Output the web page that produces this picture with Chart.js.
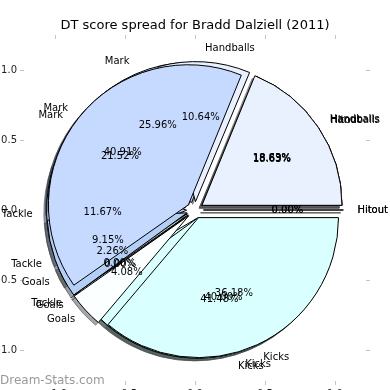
<!DOCTYPE html>
<html><head><meta charset="utf-8">
<script src="https://cdn.jsdelivr.net/npm/chart.js@4.4.1/dist/chart.umd.min.js"></script>
<style>
html,body{margin:0;padding:0;background:#fff;overflow:hidden;width:390px;height:390px;}
#wrap{position:relative;width:390px;height:390px;overflow:hidden;background:#fff;}
canvas{position:absolute;}
#base{left:-20px;top:0;width:430px;height:420px;}
.pie{left:0;top:0;width:390px;height:390px;}
</style></head><body>
<div id="wrap">
<canvas id="base" width="430" height="420"></canvas>
<canvas id="pieA" class="pie" width="390" height="390"></canvas>
<canvas id="pieC" class="pie" width="390" height="390"></canvas>
<canvas id="pieB" class="pie" width="390" height="390"></canvas>
</div>
<script>
// ---- data ----
const chartTitle = 'DT score spread for Bradd Dalziell (2011)';
const categories = ['Hitout', 'Handballs', 'Mark', 'Tackle', 'Goals', 'Kicks'];
const pieAValues = [0.00, 18.63, 25.96, 11.67, 2.26, 41.48];   // drawn first (bottom)
const pieCValues = [18.69, 10.64, 21.52, 9.15, 0.00, 40.00];   // drawn second
const pieBValues = [0.00, 18.83, 40.91, 0.00, 4.08, 36.18];    // drawn last (top)
const axisTicks = [-1.0, -0.5, 0.0, 0.5, 1.0];
const watermarkText = 'Dream-Stats.com';

// ---- style ----
const sliceColors = ['#eeeeee', '#e9f0fe', '#c6d9fe', '#b4cff6', '#d4e98b', '#d9ffff'];
const topSliceColors = ['#eeeeee', '#e9f0fe', '#c6d9fe', '#b4cff6', '#fbffff', '#d9ffff'];
const FONT = '"DejaVu Sans", "Liberation Sans", sans-serif';
const PIE_RADIUS = 140;
const EXPLODE = 0.06;
const SHADOW = 0.02;
const AXIS_LIMIT = 171 / 140;

function shadowColor(hex) {
  const n = parseInt(hex.slice(1), 16);
  const r = (n >> 16) & 255, g = (n >> 8) & 255, b = n & 255;
  return 'rgba(' + Math.round(r * 0.3) + ',' + Math.round(g * 0.3) + ',' + Math.round(b * 0.3) + ',0.5)';
}
function fmtTick(v) {
  return (v < 0 ? '\u2212' : '') + Math.abs(v).toFixed(1);
}

// ---- base chart (axes, title, watermark) ----
const watermarkPlugin = {
  id: 'watermark',
  afterDraw(chart) {
    const ctx = chart.ctx;
    ctx.save();
    ctx.font = '12px ' + FONT;
    ctx.fillStyle = '#9a9a9a';
    ctx.textAlign = 'left';
    ctx.textBaseline = 'middle';
    ctx.fillText(watermarkText, 20, 381);
    ctx.restore();
  }
};
function axisCfg(position, size, showLabels) {
  const horizontal = position === 'top' || position === 'bottom';
  return {
    type: 'linear', position: position,
    min: -AXIS_LIMIT, max: AXIS_LIMIT,
    afterFit: s => { if (horizontal) s.height = size; else s.width = size; },
    afterBuildTicks: s => { s.ticks = axisTicks.map(v => ({ value: v })); },
    grid: { drawOnChartArea: false, drawTicks: true, tickLength: 4, color: '#c4c4c4', lineWidth: 1 },
    border: { display: false },
    ticks: {
      callback: fmtTick, autoSkip: false, maxRotation: 0,
      color: showLabels ? '#222' : 'rgba(0,0,0,0)',
      font: { family: FONT, size: 10 }, padding: 3
    }
  };
}
new Chart(document.getElementById('base'), {
  type: 'scatter',
  data: { datasets: [] },
  options: {
    responsive: false, animation: false, events: [],
    layout: { padding: 0 },
    plugins: {
      legend: { display: false }, tooltip: { enabled: false },
      title: {
        display: true, text: chartTitle, color: '#000',
        font: { family: FONT, size: 13, weight: 'normal', lineHeight: 1.2 },
        padding: { top: 17.5, bottom: 0 }
      }
    },
    scales: {
      x: axisCfg('bottom', 39, true),
      x2: axisCfg('top', 5.9, false),
      y: axisCfg('left', 44, true),
      y2: axisCfg('right', 44, false)
    }
  },
  plugins: [watermarkPlugin]
});

// ---- pies ----
const pies = [];

const explodePlugin = {
  id: 'explode',
  beforeDatasetDraw(chart, args) {
    const ctx = chart.ctx;
    args.meta.data.forEach(el => {
      const m = (el.startAngle + el.endAngle) / 2;
      const d = EXPLODE * el.outerRadius;
      ctx.save();
      ctx.translate(Math.cos(m) * d, Math.sin(m) * d);
      if (el.endAngle - el.startAngle > 1e-9) {
        el.draw(ctx);
      } else {
        ctx.beginPath();
        ctx.moveTo(el.x, el.y);
        ctx.lineTo(el.x + Math.cos(m) * el.outerRadius, el.y + Math.sin(m) * el.outerRadius);
        ctx.strokeStyle = '#000';
        ctx.lineWidth = 1;
        ctx.stroke();
      }
      ctx.restore();
    });
    return false;
  }
};

const shadowPlugin = {
  id: 'shadows',
  beforeDatasetsDraw(chart) {
    const ctx = chart.ctx;
    pies.forEach(p => {
      const meta = p.getDatasetMeta(0);
      const colors = p.data.datasets[0].backgroundColor;
      meta.data.forEach((el, i) => {
        const m = (el.startAngle + el.endAngle) / 2;
        const d = EXPLODE * el.outerRadius;
        const so = SHADOW * el.outerRadius;
        const cx = el.x + Math.cos(m) * d - so;
        const cy = el.y + Math.sin(m) * d + so;
        ctx.save();
        ctx.beginPath();
        ctx.moveTo(cx, cy);
        if (el.endAngle - el.startAngle > 1e-9) {
          ctx.arc(cx, cy, el.outerRadius, el.startAngle, el.endAngle);
        } else {
          ctx.lineTo(cx + Math.cos(m) * el.outerRadius, cy + Math.sin(m) * el.outerRadius);
        }
        ctx.closePath();
        const c = shadowColor(colors[i]);
        ctx.fillStyle = c;
        ctx.strokeStyle = c;
        ctx.lineWidth = 1;
        ctx.fill();
        ctx.stroke();
        ctx.restore();
      });
    });
  }
};

const labelPlugin = {
  id: 'pieLabels',
  afterDraw(chart) {
    const ctx = chart.ctx;
    ctx.save();
    ctx.font = '10px ' + FONT;
    ctx.fillStyle = '#000';
    ctx.textBaseline = 'middle';
    pies.forEach(p => {
      const meta = p.getDatasetMeta(0);
      const values = p.data.datasets[0].data;
      const total = values.reduce((a, b) => a + b, 0);
      meta.data.forEach((el, i) => {
        const m = (el.startAngle + el.endAngle) / 2;
        const R = el.outerRadius;
        const cx = el.x + Math.cos(m) * EXPLODE * R;
        const cy = el.y + Math.sin(m) * EXPLODE * R;
        const lx = cx + Math.cos(m) * 1.1 * R;
        const ly = cy + Math.sin(m) * 1.1 * R;
        ctx.textAlign = lx > el.x ? 'left' : 'right';
        ctx.fillText(p.data.labels[i], lx, ly);
        const px = cx + Math.cos(m) * 0.6 * R;
        const py = cy + Math.sin(m) * 0.6 * R;
        ctx.textAlign = 'center';
        ctx.fillText((values[i] / total * 100).toFixed(2) + '%', px, py);
      });
    });
    ctx.restore();
  }
};

function makePie(id, values, colors, extraPlugins) {
  // Chart.js draws clockwise from the top; reversing the order with a 90° rotation
  // reproduces the counter-clockwise layout starting at 3 o'clock.
  const order = values.map((_, i) => values.length - 1 - i);
  const chart = new Chart(document.getElementById(id), {
    type: 'pie',
    data: {
      labels: order.map(i => categories[i]),
      datasets: [{
        data: order.map(i => values[i]),
        backgroundColor: order.map(i => colors[i]),
        borderColor: '#000', borderWidth: 1, radius: PIE_RADIUS
      }]
    },
    options: {
      responsive: false, animation: false, events: [],
      rotation: 90, radius: PIE_RADIUS,
      layout: { padding: { top: 30 } },
      plugins: { legend: { display: false }, tooltip: { enabled: false } }
    },
    plugins: [explodePlugin].concat(extraPlugins)
  });
  pies.push(chart);
  return chart;
}

const pieA = makePie('pieA', pieAValues, sliceColors, [shadowPlugin]);
const pieC = makePie('pieC', pieCValues, sliceColors, []);
const pieB = makePie('pieB', pieBValues, topSliceColors, [labelPlugin]);
pieA.draw();
pieB.draw();
</script>
</body></html>
